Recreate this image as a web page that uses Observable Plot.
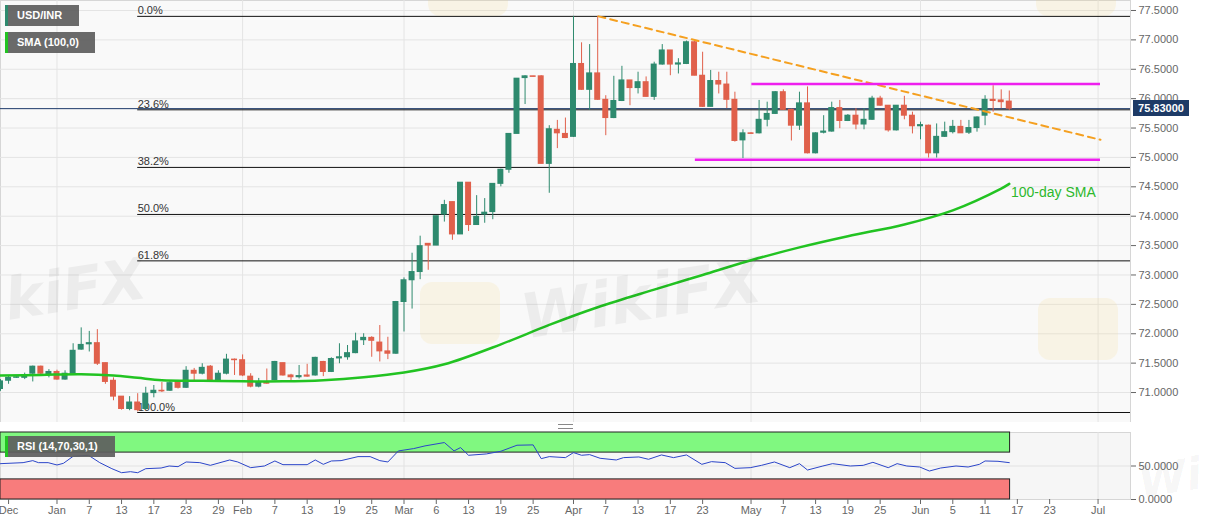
<!DOCTYPE html>
<html><head><meta charset="utf-8">
<script src="https://cdn.jsdelivr.net/npm/d3@7"></script>
<script src="https://cdn.jsdelivr.net/npm/@observablehq/plot@0.6"></script>
<style>
body{margin:0;background:#fff;font-family:"Liberation Sans",Arial,sans-serif}
#wrap{position:relative;width:1207px;height:526px;overflow:hidden;background:#fff}
#wrap svg{position:absolute;left:0}
.leg{position:absolute;height:21px;line-height:21px;color:#fff;font-weight:bold;font-size:11px;padding-left:9px;box-sizing:border-box;background:rgba(95,95,95,0.93);font-family:"Liberation Sans",Arial,sans-serif}
.wm{position:absolute;font-family:"DejaVu Sans",sans-serif;font-weight:bold;font-style:italic;font-size:58px;color:rgba(0,0,0,0.05);transform:rotate(-9deg);white-space:nowrap;pointer-events:none}
.logo{position:absolute;width:80px;height:62px;border-radius:12px;background:rgba(250,210,110,0.14);pointer-events:none}
</style>
</head><body><div id="wrap"></div>
<script>
// ---- data (trading-day index 0 = mid-Dec 2019) ----
const open  = [71.06,71.20,71.25,71.25,71.32,71.44,71.30,71.35,71.22,71.32,71.73,71.82,71.84,71.50,71.20,70.93,70.72,70.83,70.72,70.99,71.03,71.03,71.18,71.08,71.37,71.32,71.44,71.20,71.32,71.56,71.55,71.27,71.10,71.18,71.21,71.50,71.29,71.26,71.29,71.29,71.52,71.35,71.58,71.60,71.67,71.89,71.93,71.85,71.70,71.66,72.54,72.91,73.05,73.53,73.50,74.03,74.24,73.69,74.57,73.85,74.03,74.07,74.55,74.79,75.40,76.35,76.38,76.38,74.89,75.47,75.40,75.35,76.59,76.15,76.43,75.98,75.67,75.96,76.31,76.18,76.28,76.03,76.58,76.82,76.58,76.59,76.96,76.39,75.86,76.30,76.24,75.98,75.29,75.41,75.41,75.64,75.74,76.11,75.81,75.54,75.92,75.07,75.42,75.44,75.84,75.62,75.71,75.56,75.64,76.00,75.88,75.46,75.88,75.71,75.53,75.54,75.07,75.35,75.43,75.52,75.42,75.50,75.71,75.98,75.97,75.95];
const high  = [71.22,71.29,71.27,71.33,71.45,71.45,71.39,71.38,71.37,71.83,72.10,72.04,72.07,71.50,71.25,70.93,70.93,70.98,71.09,71.12,71.17,71.20,71.20,71.44,71.41,71.49,71.46,71.37,71.65,71.57,71.64,71.32,71.24,71.40,71.53,71.50,71.31,71.46,71.48,71.60,71.53,71.59,71.83,71.80,72.01,72.00,71.95,72.14,71.94,72.55,72.95,73.37,73.66,73.53,74.00,74.27,74.24,74.57,74.57,74.35,74.30,74.55,74.80,75.40,76.34,76.39,76.38,76.39,75.54,75.63,75.67,77.40,76.95,76.92,77.40,76.05,76.38,76.55,76.31,76.45,76.37,76.62,76.92,76.82,76.68,76.98,76.98,76.79,76.48,76.45,76.45,76.11,75.47,75.42,75.97,75.94,76.12,76.15,75.82,76.11,76.20,75.42,75.71,75.94,75.97,75.73,75.83,75.83,76.04,76.04,75.88,75.88,76.04,75.77,75.60,75.55,75.57,75.60,75.63,75.63,75.63,75.69,76.05,76.22,76.15,76.13];
const low   = [71.02,71.14,71.24,71.22,71.18,71.30,71.25,71.21,71.21,71.31,71.72,71.69,71.46,71.14,70.86,70.70,70.69,70.67,70.70,70.91,71.00,71.02,71.06,71.07,71.20,71.30,71.20,71.18,71.30,71.29,71.27,71.08,71.08,71.14,71.20,71.28,71.20,71.23,71.26,71.28,71.27,71.34,71.49,71.55,71.66,71.80,71.60,71.52,71.56,71.65,72.03,72.42,72.92,73.08,73.50,73.90,73.59,73.69,73.74,73.85,73.88,73.94,74.50,74.73,75.40,75.90,76.37,74.89,74.39,75.15,75.32,75.34,76.14,75.80,75.97,75.37,75.66,75.95,75.88,76.08,76.03,75.97,76.57,76.39,76.42,76.58,76.39,75.85,75.86,76.08,75.83,75.26,74.98,75.40,75.40,75.52,75.73,75.80,75.28,75.46,75.06,75.06,75.40,75.43,75.49,75.61,75.47,75.47,75.63,75.87,75.43,75.45,75.64,75.40,75.30,74.99,74.99,75.34,75.40,75.41,75.39,75.43,75.54,75.77,75.83,75.80];
const close = [71.19,71.25,71.26,71.29,71.44,71.32,71.35,71.22,71.32,71.71,71.81,71.84,71.49,71.18,70.93,70.72,70.83,70.70,70.98,71.03,71.02,71.16,71.08,71.37,71.32,71.42,71.20,71.32,71.56,71.55,71.29,71.10,71.18,71.15,71.52,71.29,71.26,71.28,71.27,71.59,71.35,71.57,71.60,71.67,71.87,71.93,71.88,71.70,71.66,72.54,72.91,73.05,73.49,73.50,74.00,74.19,73.69,74.57,73.85,73.99,74.06,74.55,74.79,75.40,76.34,76.38,76.37,74.89,75.48,75.41,75.33,76.59,76.15,76.43,75.98,75.67,75.96,76.31,76.18,76.28,76.03,76.58,76.82,76.58,76.60,76.96,76.39,75.86,76.30,76.24,75.98,75.28,75.41,75.40,75.64,75.74,76.11,75.81,75.54,75.92,75.07,75.41,75.44,75.84,75.62,75.71,75.56,75.64,76.00,75.88,75.46,75.88,75.71,75.53,75.55,75.07,75.35,75.43,75.52,75.41,75.50,75.68,75.98,75.96,75.94,75.83];

// 100-day SMA read at chosen candle indices
const smaIdx = [0,5,10,14,17,20,25,30,35,40,45,50,55,62,68,74,81,87,93,99,105,112,118,124,125];
const smaVal = [71.29,71.30,71.31,71.29,71.25,71.21,71.20,71.19,71.19,71.21,71.26,71.34,71.48,71.82,72.15,72.45,72.75,73.00,73.25,73.47,73.66,73.86,74.10,74.47,74.55];

// RSI(14) read at candle indices
const rsiIdx = [0,2.8,4,4.7,5.9,7,7.8,9,10.9,12.3,13.8,15,16.1,17,18,19.9,20.9,22,23,24.7,26,28.4,29.4,31,32.7,34,35,38,39,40,41,42.2,44.3,45.8,47,48,49.3,51.2,52.6,55,56.2,57,58,60.2,62,64,66,67,68,70,71,72,73,74.3,76.3,77.2,79.1,80.3,81.9,83.4,85,86.9,88.1,89.8,91,92.9,94.3,95.9,97.8,99,100,101.9,103.1,105.3,106.9,108.1,110,111.1,112.3,113.9,115.1,116.5,118.4,119.9,121.3,122,123.6,125];
const rsiVal = [53.5,55,58,55,55,51.5,54,64.5,66,55,46,40,41.5,40,46,47,50,49,56,55,51,59,56,47.5,50,57.5,52,52,59,52.5,57.5,58,64,64,58,56,72.5,76,80,85,72.5,77.5,66,68,72,81,81.5,61,64,62.5,70,66,67,61.5,59,62.5,63.5,60,66.5,62.5,66.5,52.5,56.5,55,46.5,47.5,51,56,47.5,53.5,44,50,53.5,50,51,55.5,47.5,53.5,50,48.5,42.5,47,50,48.5,52.5,57.5,57,55];

// axes
const yTicks = [71,71.5,72,72.5,73,73.5,74,74.5,75,75.5,76,76.5,77,77.5];
const xTickIdx = [1,7,11,15,19,23,27,30,34,38,42,46,50,54,58,62,66,71,75,79,83,87,93,97,101,105,109,114,118,122,126,130,136];
const xTickLbl = ["Dec","Jan","7","13","17","23","29","Feb","7","13","19","25","Mar","6","13","19","25","Apr","7","13","17","23","May","7","13","19","25","Jun","5","11","17","23","Jul"];
const monthIdx = [7,30,50,71,93,114,136];

// Fibonacci retracement levels
const fibLevels = [77.40,75.81,74.83,74.03,73.24,70.66];
const fibLabels = ["0.0%","23.6%","38.2%","50.0%","61.8%","100.0%"];
const fibStart = 17;

// annotations
const trendIdx = [74.1,136.3];
const trendVal = [77.40,75.30];
const chanVal = [76.25,74.96];
const chanFrom = [93.1,86.1];
const chanTo = [136.3,136.3];
const lastPrice = 75.83;
const smaLabel = {i:125.2, v:74.40, t:"100-day SMA"};

const GREEN = "#2e8a6e", RED = "#e0604b";
const XMAX = 140.02;

const candles = d3.range(open.length).map(i => ({i, o:open[i], h:high[i], l:low[i], c:close[i], col: close[i] >= open[i] ? GREEN : RED}));
const sma = smaIdx.map((i,k) => ({i, v:smaVal[k]}));
const rsi = rsiIdx.map((i,k) => ({i, v:rsiVal[k]}));
const fib = fibLevels.map((v,k) => ({v, t:fibLabels[k]}));
const trend = trendIdx.map((i,k) => ({i, v:trendVal[k]}));
const chan = chanVal.map((v,k) => ({v, a:chanFrom[k], b:chanTo[k]}));
const lblMap = new Map(xTickIdx.map((d,k) => [d, xTickLbl[k]]));

const font = "'Liberation Sans', Arial, sans-serif";

const main = Plot.plot({
  width:1207, height:422, marginLeft:0, marginRight:77, marginTop:0, marginBottom:0,
  x:{domain:[0,XMAX], axis:null},
  y:{domain:[70.49,77.67], axis:null, label:null},
  style:{background:"transparent", fontFamily:font},
  marks:[
    Plot.frame({fill:"#f9f9f9", stroke:"#d6d6d6"}),
    Plot.gridY(yTicks, {stroke:"#e4e4e4", strokeOpacity:1}),
    Plot.gridX(monthIdx, {stroke:"#e4e4e4", strokeOpacity:1}),
    Plot.axisY(yTicks, {anchor:"right", tickFormat:d => d.toFixed(4), tickSize:5, tickPadding:3, fontSize:11, color:"#666", label:null}),
    Plot.ruleY(fib, {y:"v", x1:fibStart, x2:XMAX, stroke:"#111", strokeWidth:1}),
    Plot.text(fib, {x:fibStart, y:"v", text:"t", textAnchor:"start", lineAnchor:"bottom", dy:-2, fontSize:11, fill:"#333"}),
    Plot.ruleY([lastPrice], {stroke:"#1d3a6b", strokeWidth:1}),
    Plot.ruleX(candles, {x:"i", y1:"l", y2:"h", stroke:"col", strokeWidth:1}),
    Plot.rect(candles, {x1:d => d.i - 0.37, x2:d => d.i + 0.37, y1:"o", y2:"c", fill:"col", insetTop:-0.5, insetBottom:-0.5}),
    Plot.line(sma, {x:"i", y:"v", stroke:"#22c322", strokeWidth:2.5, curve:"catmull-rom"}),
    Plot.line(trend, {x:"i", y:"v", stroke:"#f5a020", strokeWidth:2, strokeDasharray:"7,5"}),
    Plot.ruleY(chan, {y:"v", x1:"a", x2:"b", stroke:"#ee1fee", strokeWidth:2.5}),
    Plot.text([smaLabel], {x:"i", y:"v", text:"t", textAnchor:"start", fill:"#2db82d", fontSize:14})
  ]
});
main.style.top = "0px";

const rsiPlot = Plot.plot({
  width:1207, height:104, marginLeft:0, marginRight:77, marginTop:10, marginBottom:27,
  x:{domain:[0,XMAX], axis:null},
  y:{domain:[0,100], axis:null, label:null},
  style:{background:"transparent", fontFamily:font},
  marks:[
    Plot.frame({fill:"#f6f6f6", stroke:"#d6d6d6"}),
    Plot.gridX(monthIdx, {stroke:"#e2e2e2", strokeOpacity:1}),
    Plot.gridY([50], {stroke:"#e2e2e2", strokeOpacity:1}),
    Plot.rect([{a:0, b:125.1, lo:70, hi:100}], {x1:"a", x2:"b", y1:"lo", y2:"hi", fill:"#80f880", stroke:"#222", strokeWidth:1}),
    Plot.rect([{a:0, b:125.1, lo:0, hi:30}], {x1:"a", x2:"b", y1:"lo", y2:"hi", fill:"#f87c7c", stroke:"#222", strokeWidth:1}),
    Plot.line(rsi, {x:"i", y:"v", stroke:"#2b45c9", strokeWidth:1}),
    Plot.axisY([0,50], {anchor:"right", tickFormat:d => d.toFixed(4), tickSize:5, tickPadding:3, fontSize:11, color:"#666", label:null}),
    Plot.axisX(xTickIdx, {anchor:"bottom", tickFormat:d => lblMap.get(d), tickSize:5, tickPadding:2, fontSize:11, color:"#666", label:null})
  ]
});
rsiPlot.style.top = "422px";

const wrap = document.getElementById("wrap");
wrap.appendChild(main);
wrap.appendChild(rsiPlot);

// watermarks (decoration, drawn on top, very faint)
const logos = [[420,282],[1038,298],[428,-46],[1036,-46]];
for (const [l,tp] of logos) { const d=document.createElement("div"); d.className="logo"; d.style.left=l+"px"; d.style.top=tp+"px"; wrap.appendChild(d); }
const wms = [["kiFX",4,255,58],["WikiFX",520,262,62],["Wi",1138,452,44]];
for (const [t,l,tp,fs] of wms) { const d=document.createElement("div"); d.className="wm"; d.textContent=t; d.style.left=l+"px"; d.style.top=tp+"px"; d.style.fontSize=fs+"px"; wrap.appendChild(d); }

// legends
function legend(text, left, top, width, stripe){
  const d=document.createElement("div"); d.className="leg"; d.textContent=text;
  d.style.left=left+"px"; d.style.top=top+"px"; d.style.width=width+"px"; d.style.borderLeft="3px solid "+stripe;
  wrap.appendChild(d);
}
legend("USD/INR",5,5,74,GREEN);
legend("SMA (100,0)",5,32,90,"#22c322");
legend("RSI (14,70,30,1)",5,436,110,"#22c322");

// last price tag on axis
const yScale = main.scale("y");
const tag = document.createElement("div");
tag.textContent = lastPrice.toFixed(5);
Object.assign(tag.style,{position:"absolute",left:"1133px",top:(yScale.apply(lastPrice)-8)+"px",width:"56px",height:"16px",lineHeight:"16px",background:"#1d3a66",color:"#fff",fontSize:"11px",fontWeight:"bold",textAlign:"center",fontFamily:font});
wrap.appendChild(tag);

// panel resize handle
const h = document.createElement("div");
Object.assign(h.style,{position:"absolute",left:"558px",top:"424px",width:"15px",height:"3px",borderTop:"1px solid #888",borderBottom:"1px solid #888"});
wrap.appendChild(h);
</script></body></html>
